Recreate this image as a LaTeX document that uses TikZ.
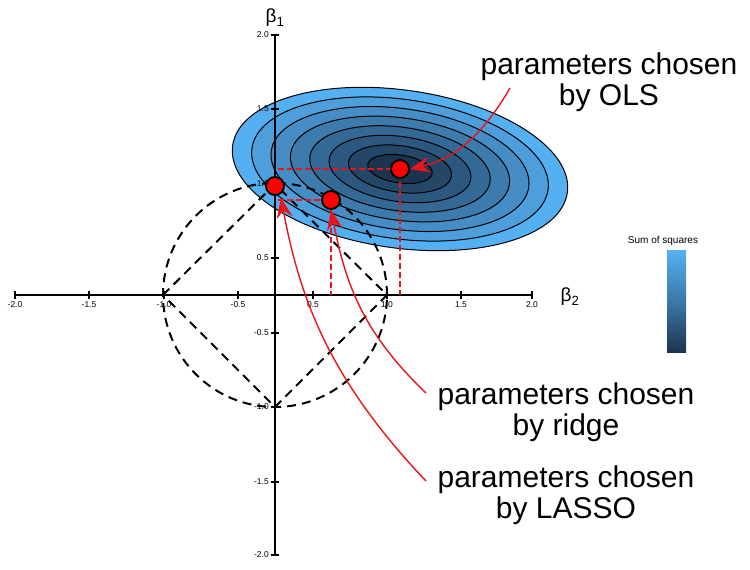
\documentclass[tikz,border=0pt]{standalone}
\usepackage{fontspec}
\setmainfont{Liberation Sans}
\usetikzlibrary{arrows.meta,calc}
\definecolor{outerb}{HTML}{55B0F2}
\definecolor{innerb}{HTML}{1C3450}
\definecolor{arrred}{HTML}{E8161B}
\tikzset{
  axis/.style={line width=2pt,black},
  tk/.style={line width=2pt},
  ticklab/.style={font=\fontsize{8.5}{9}\selectfont,inner sep=1pt},
  bound/.style={line width=2pt,dash pattern=on 9pt off 6pt},
  guide/.style={draw=arrred,line width=1.2pt,dash pattern=on 6pt off 3pt},
  pt/.style={circle,fill=red,draw=black,line width=1.8pt,minimum size=18pt,inner sep=0pt},
  callout/.style={draw=arrred,line width=1.4pt,-{Stealth[length=20pt,width=16pt,inset=7pt]}},
  lab/.style={font=\fontsize{30}{31}\selectfont,align=center},
}
\begin{document}
\begin{tikzpicture}[x=1pt,y=1pt]
\useasboundingbox (0,0) rectangle (750,-570);
% ellipses
\foreach \k in {0,...,7}{
  \pgfmathsetmacro{\a}{169-\k*19.5}
  \pgfmathsetmacro{\b}{79-\k*9.3}
  \pgfmathsetmacro{\m}{100-\k*100/7}
  \path[draw=black,line width=1pt,fill=outerb!\m!innerb,rotate around={-8:(400,-169)}]
    (400,-169) ellipse [x radius=\a, y radius=\b];
}
% axes
\draw[axis] (15,-295) coordinate (xl) -- (532,-295) coordinate (xr);
\draw[axis] (275,-35) coordinate (yt) -- (275,-555) coordinate (yb);
\foreach \x/\t in {15/-2.0,89/-1.5,164/-1.0,238/-0.5,313/0.5,387/1.0,461/1.5,532/2.0}{
  \draw[tk] (\x,-291) -- (\x,-299);
  \node[ticklab,anchor=north] at (\x,-300) {\t};
}
\foreach \y/\t in {35/2.0,109/1.5,184/1.0,258/0.5,333/-0.5,407/-1.0,482/-1.5,555/-2.0}{
  \draw[tk] (271,-\y) -- (279,-\y);
  \node[ticklab,anchor=east] at (270,-\y) {\t};
}
\node[font=\fontsize{19}{20}\selectfont] (b1) at (275,-18) {β\textsubscript{1}};
\node[font=\fontsize{19}{20}\selectfont] (b2) at (570,-297) {β\textsubscript{2}};
% constraint regions
\draw[bound] (275,-295) circle [radius=112];
\draw[bound] (163,-295) -- (275,-184) -- (387,-295) -- (275,-407) -- cycle;
% guides
\draw[guide] (278,-169) -- (400,-169) -- (400,-295);
\draw[guide] (278,-200) -- (331,-200) -- (331,-295);
% points
\node[pt] (ols) at (400,-169) {};
\node[pt] (ridge) at (331,-200) {};
\node[pt] (lasso) at (275,-186) {};
% labels
\node[lab] (lols) at (609,-82) {parameters chosen\\by OLS};
\node[lab] (lridge) at (566,-412) {parameters chosen\\by ridge};
\node[lab] (llasso) at (566,-495) {parameters chosen\\by LASSO};
\coordinate (sols) at (510,-88);
\coordinate (sridge) at (426,-393);
\coordinate (slasso) at (426,-481);
\draw[callout] (sols) .. controls (480,-140) and (450,-160) .. (ols.east);
\draw[callout] (sridge) .. controls (360,-330) and (345,-280) .. (ridge.south);
\draw[callout] (slasso) .. controls (330,-380) and (300,-300) .. ($(lasso.south)+(6,-2)$);
% legend
\node[font=\fontsize{10}{11}\selectfont] (ss) at (663,-241) {Sum of squares};
\shade[top color=outerb,bottom color=innerb,middle color=outerb!55!innerb] (667,-250) rectangle (686,-352);
\end{tikzpicture}
\end{document}
